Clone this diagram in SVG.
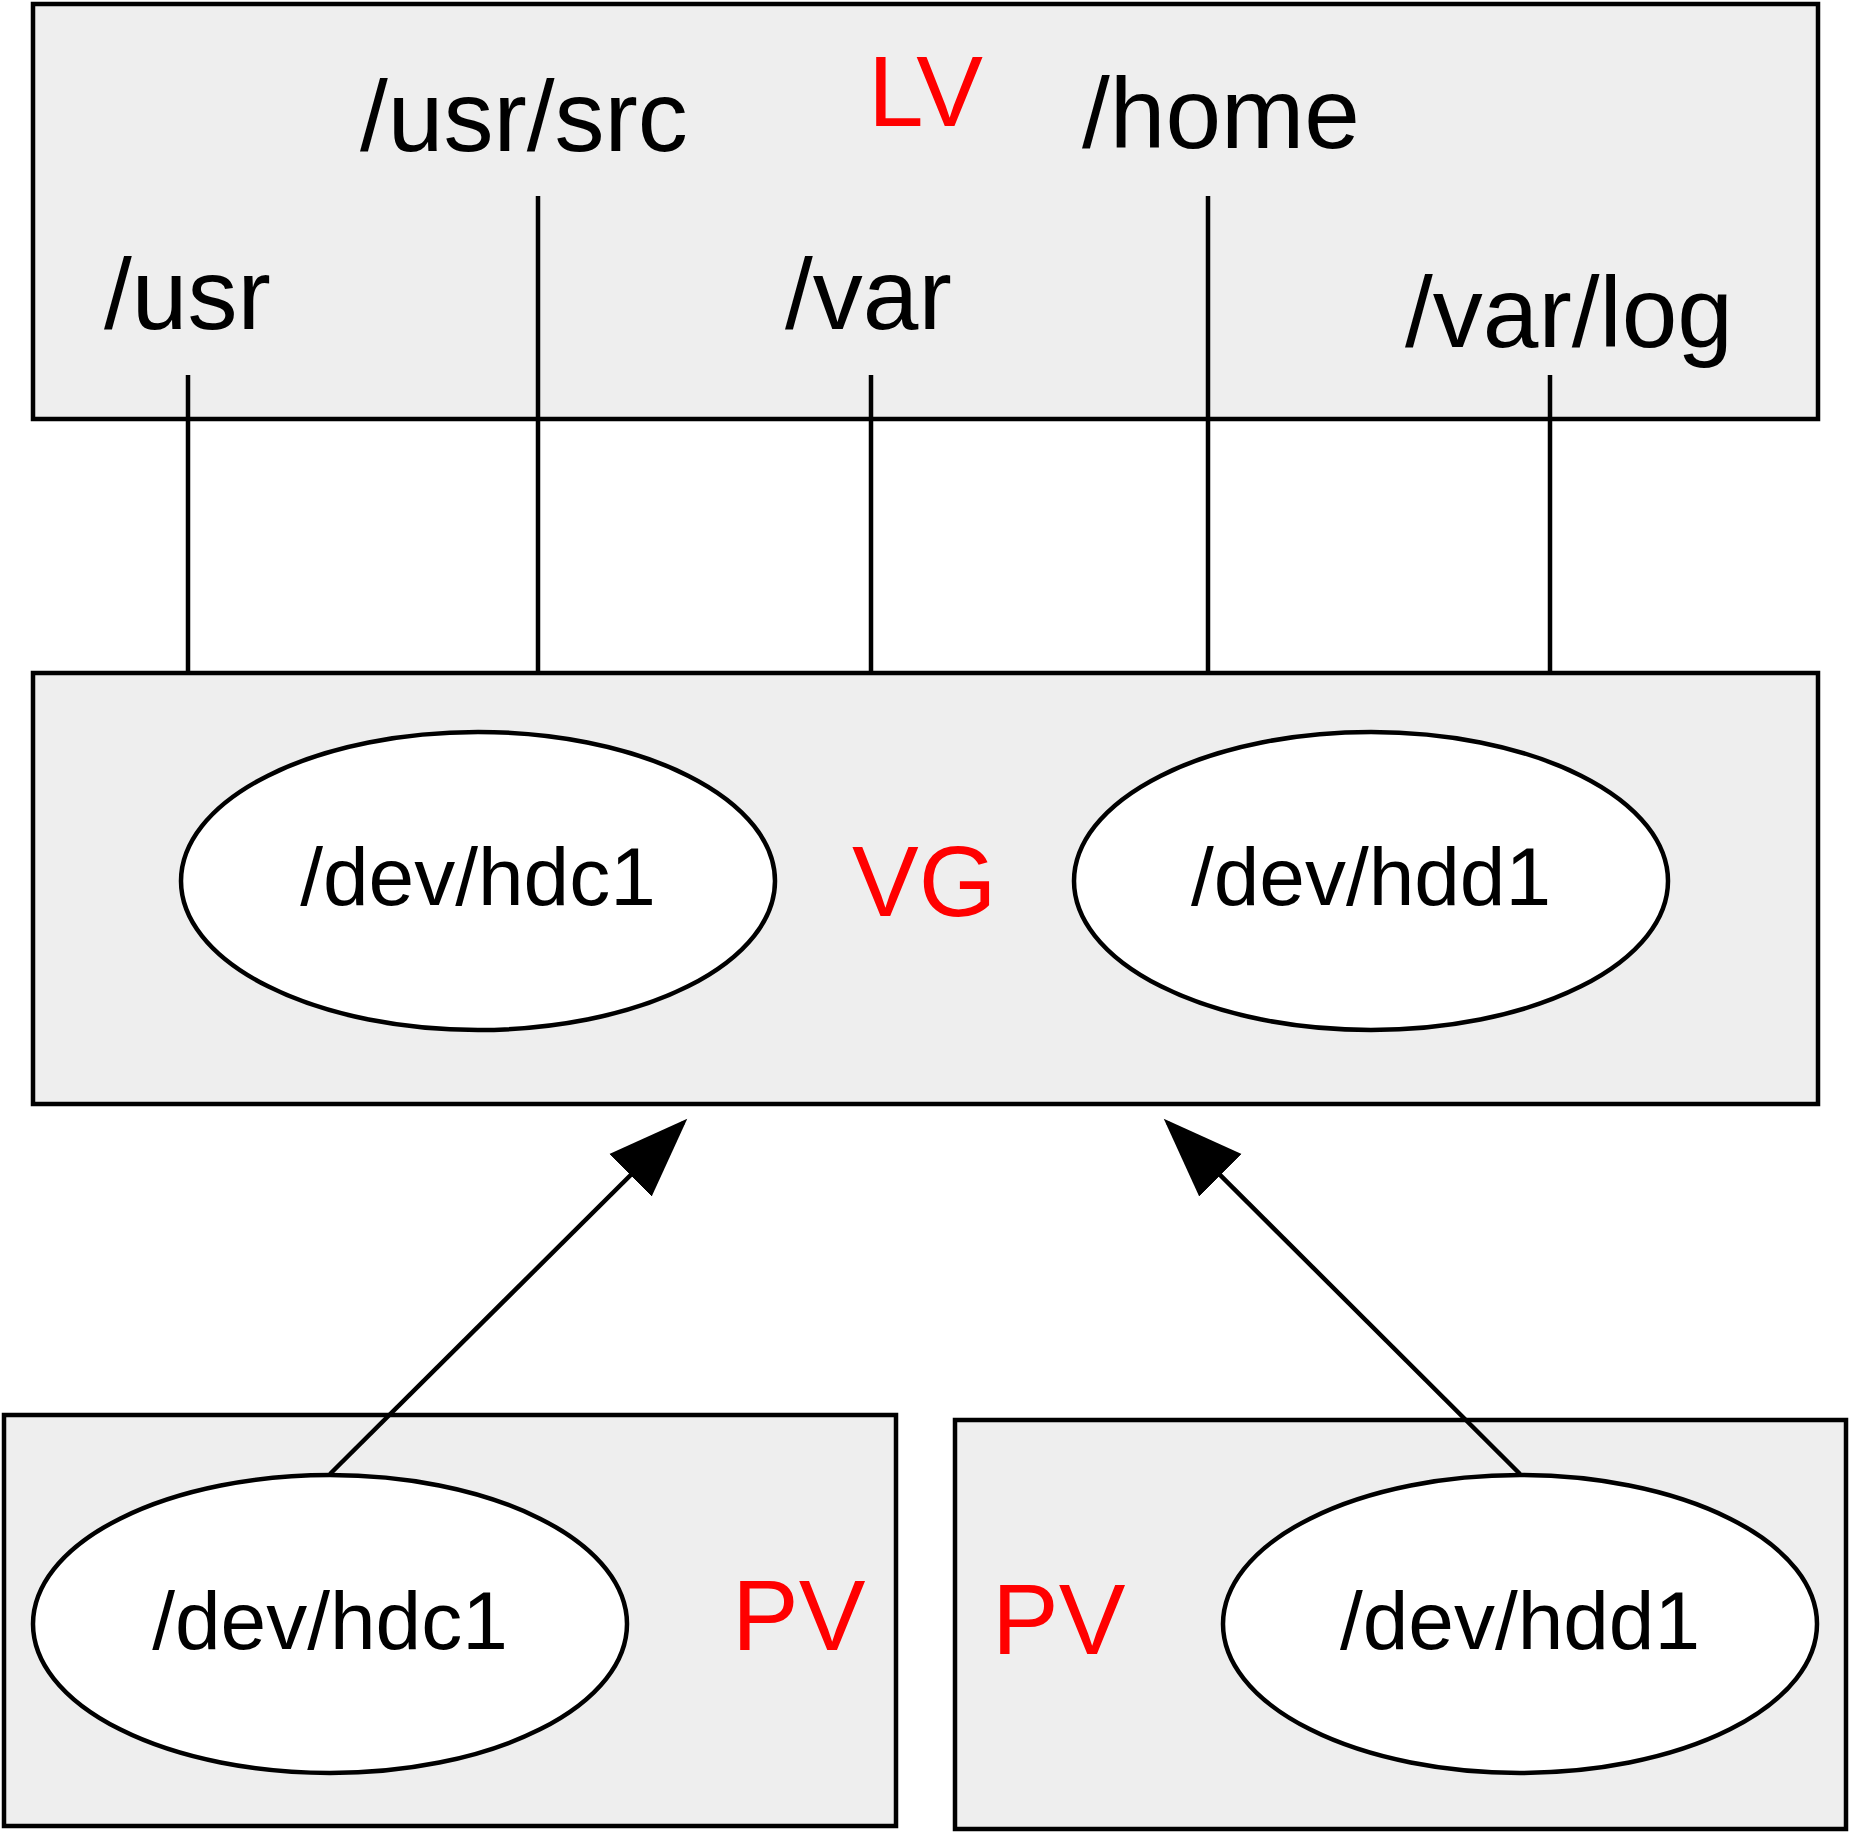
<svg xmlns="http://www.w3.org/2000/svg" width="1851" height="1832" viewBox="0 0 1851 1832">
<style>
.box{fill:#eeeeee;stroke:#000;stroke-width:4.5}
.ell{fill:#fff;stroke:#000;stroke-width:4.5}
.ln{stroke:#000;stroke-width:4.5;fill:none}
text{font-family:"Liberation Sans",Arial,sans-serif;font-size:100px;fill:#000}
.e{font-size:82px;text-anchor:middle}
.r{fill:#ff0000}
</style>
<defs>
<marker id="a" markerUnits="userSpaceOnUse" markerWidth="90" markerHeight="90" refX="74" refY="30" orient="auto" viewBox="0 0 90 60"><path d="M0,0L80,30L0,60z" fill="#000"/></marker></defs>
<g id="lv"><rect class="box" x="33" y="4" width="1785" height="415"/>
<text x="360" y="151">/usr/src</text><text class="r" x="868" y="126">LV</text><text x="1082" y="148">/home</text>
<text x="104" y="329">/usr</text><text x="785" y="329">/var</text><text x="1405" y="347">/var/log</text></g>
<g id="vg"><rect class="box" x="33" y="673" width="1785" height="431"/>
<ellipse class="ell" cx="478" cy="881" rx="297" ry="149"/><text class="e" x="478" y="905">/dev/hdc1</text>
<ellipse class="ell" cx="1371" cy="881" rx="297" ry="149"/><text class="e" x="1371" y="905">/dev/hdd1</text>
<text class="r" x="852" y="916">VG</text></g>
<g id="pv1"><rect class="box" x="4" y="1415" width="892" height="411"/>
<ellipse class="ell" cx="330" cy="1624" rx="297" ry="149"/><text class="e" x="330" y="1649">/dev/hdc1</text>
<text class="r" x="732" y="1650">PV</text></g>
<g id="pv2"><rect class="box" x="955" y="1420" width="891" height="409"/>
<ellipse class="ell" cx="1520" cy="1624" rx="297" ry="149"/><text class="e" x="1520" y="1649">/dev/hdd1</text>
<text class="r" x="992" y="1654">PV</text></g>
<g id="connectors">
<line class="ln" x1="188" y1="375" x2="188" y2="673"/>
<line class="ln" x1="538" y1="196" x2="538" y2="673"/>
<line class="ln" x1="871" y1="375" x2="871" y2="673"/>
<line class="ln" x1="1208" y1="196" x2="1208" y2="673"/>
<line class="ln" x1="1550" y1="375" x2="1550" y2="673"/>
<line class="ln" x1="330" y1="1474" x2="683" y2="1123" marker-end="url(#a)"/>
<line class="ln" x1="1520" y1="1474" x2="1168" y2="1123" marker-end="url(#a)"/>
</g>
</svg>
